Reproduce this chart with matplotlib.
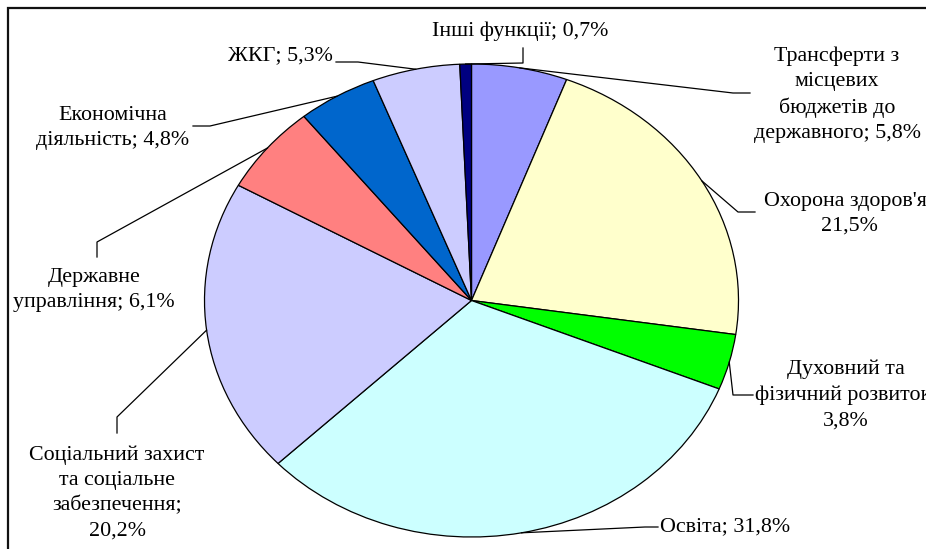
import numpy as np
import matplotlib.pyplot as plt

plt.rcParams['font.family'] = ['Liberation Serif', 'DejaVu Serif']

# shares of local budget expenditures, %, clockwise from 12 o'clock
labels = ["Трансферти з\nмісцевих\nбюджетів до\nдержавного; 5,8%",
          "Охорона здоров'я;\n21,5%",
          "Духовний та\nфізичний розвиток;\n3,8%",
          "Освіта; 31,8%",
          "Соціальний захист\nта соціальне\nзабезпечення;\n20,2%",
          "Державне\nуправління; 6,1%",
          "Економічна\nдіяльність; 4,8%",
          "ЖКГ; 5,3%",
          "Інші функції; 0,7%"]
values = [5.8, 21.5, 3.8, 31.8, 20.2, 6.1, 4.8, 5.3, 0.7]
colors = ['#9999FF', '#FFFFCC', '#00FF00', '#CCFFFF', '#CCCCFF',
          '#FF8080', '#0066CC', '#CCCCFF', '#000080']

# label layout in pixels (from top-left): text pos, alignment, leader elbow and end
text_pos = [(837, 95), (849, 214), (846, 395), (660, 527), (117, 493),
            (94, 290), (113, 128), (333, 56), (520, 31)]
text_ha = ['center', 'center', 'center', 'left', 'center',
           'center', 'center', 'right', 'center']
elbow = [(733, 93), (738, 212), (733, 395), (645, 527), (117, 417),
         (97, 242), (210, 126), (358, 62), (523, 63)]
lead_end = [(750, 93), (755, 212), (753, 395), (658, 527), (117, 433),
            (97, 257), (193, 126), (336, 62), (523, 48)]

W, H = 926, 549
cx, cy, rx, ry = 471.5, 300.5, 267.0, 236.5

fig = plt.figure(figsize=(W / 100, H / 100), dpi=100)

# pie axes sized to the ellipse bounding box
ax = fig.add_axes([(cx - rx) / W, (H - cy - ry) / H, 2 * rx / W, 2 * ry / H])
wedges, _ = ax.pie(values, colors=colors, startangle=90, counterclock=False,
                   wedgeprops={'edgecolor': 'black', 'linewidth': 0.9})
ax.set_aspect('auto')
ax.set_xlim(-1, 1)
ax.set_ylim(-1, 1)
ax.axis('off')

# overlay axes in pixel coordinates for labels, leaders and frame
ov = fig.add_axes([0, 0, 1, 1])
ov.set_xlim(0, W)
ov.set_ylim(H, 0)
ov.axis('off')

ov.plot([8, 8, W], [H, 8, 8], color='#111111', lw=1.6, solid_joinstyle='miter')

for i, w in enumerate(wedges):
    mid = np.deg2rad((w.theta1 + w.theta2) / 2)
    ax_x = cx + rx * np.cos(mid)
    ax_y = cy - ry * np.sin(mid)
    ov.plot([ax_x, elbow[i][0], lead_end[i][0]],
            [ax_y, elbow[i][1], lead_end[i][1]], color='black', lw=0.9)
    ov.text(text_pos[i][0], text_pos[i][1], labels[i], ha=text_ha[i],
            va='center', multialignment='center', fontsize=15.8,
            linespacing=1.43)

fig.savefig('out.png', dpi=100)
